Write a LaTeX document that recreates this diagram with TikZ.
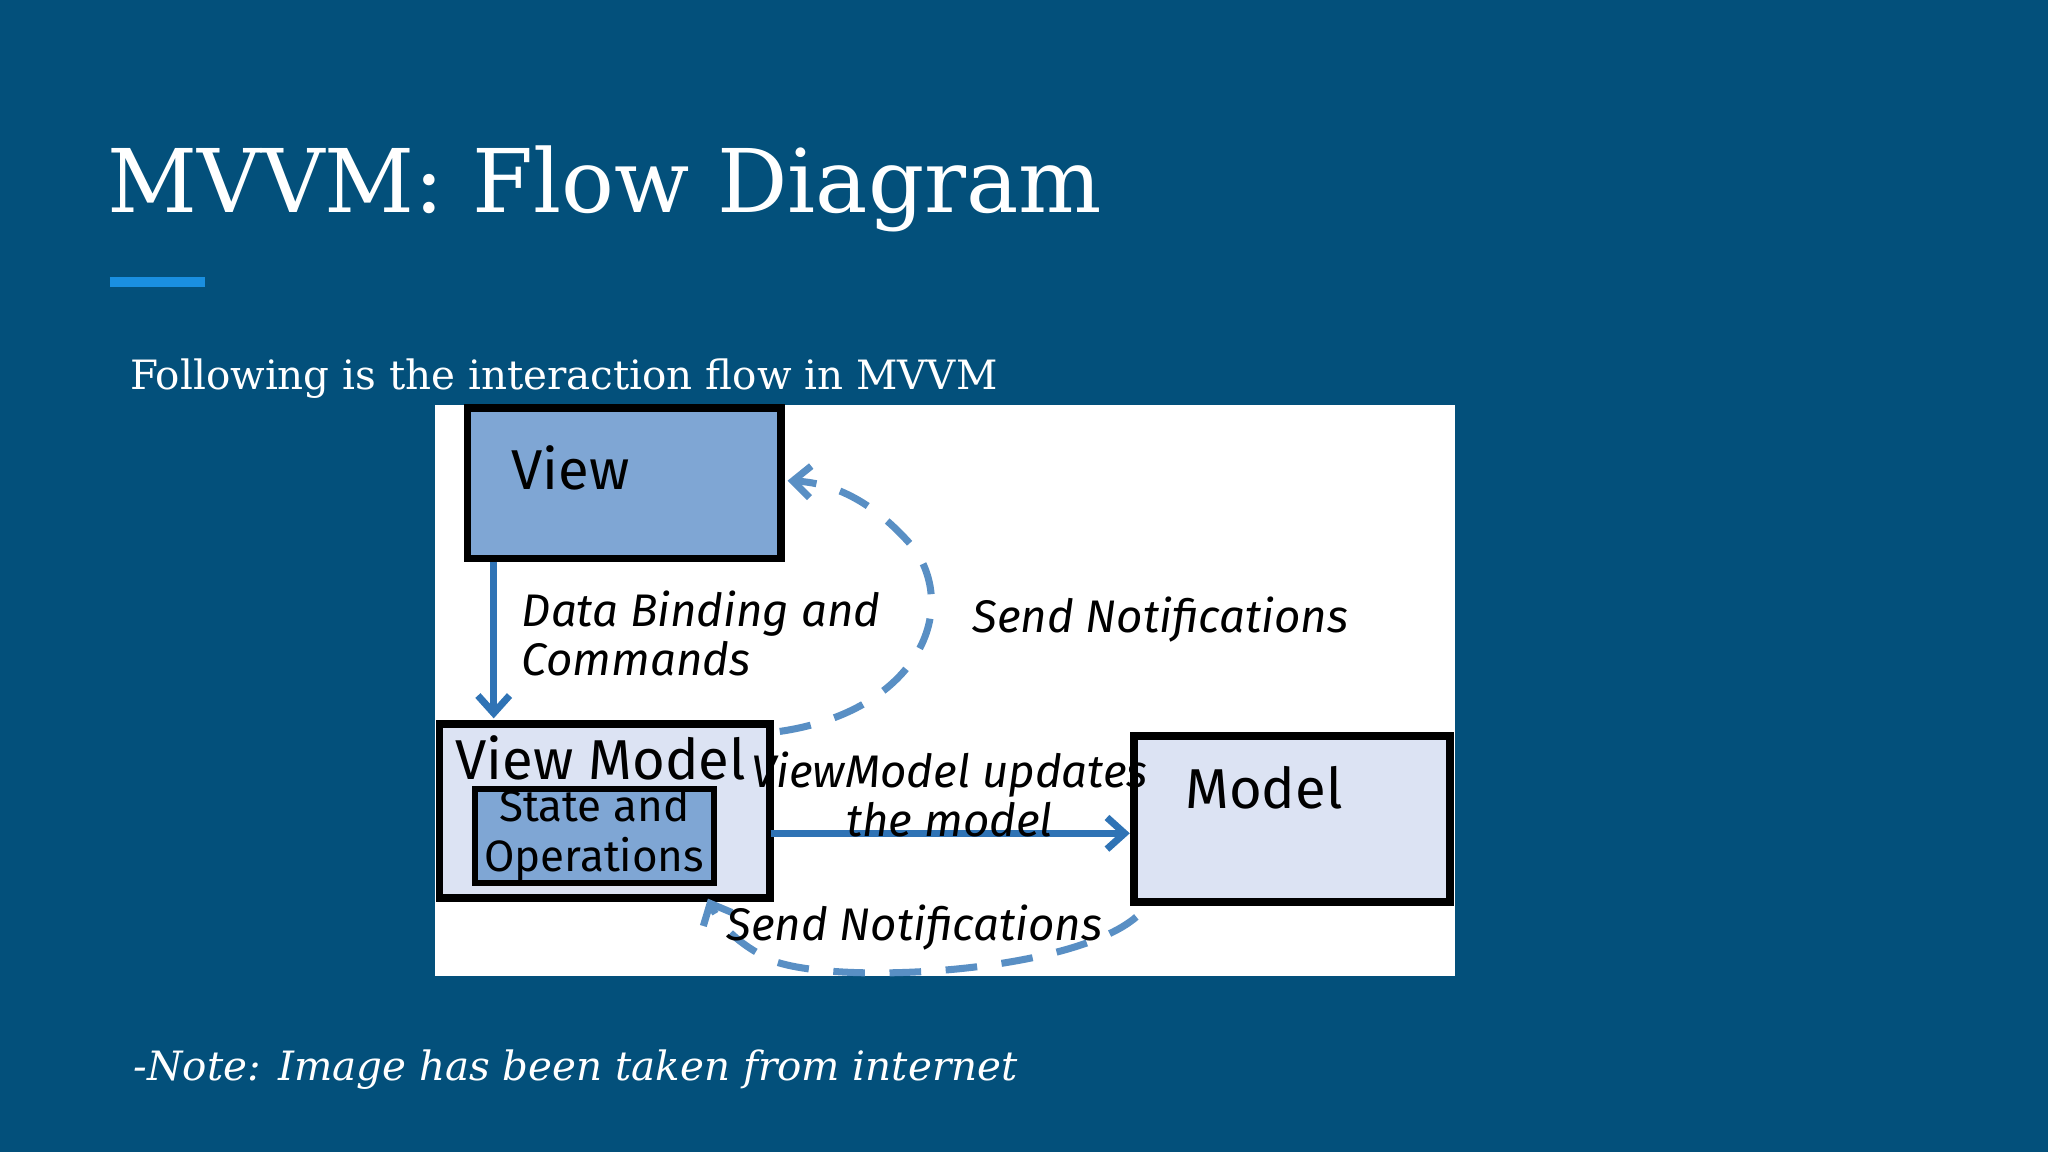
\documentclass[tikz,border=0pt]{standalone}
\usepackage{fontspec}
\setmainfont{DejaVu Serif}
\newfontfamily\hand{Fira Sans}
\usetikzlibrary{arrows.meta}
\definecolor{bg}{HTML}{03507B}
\definecolor{accent}{HTML}{1A8FE0}
\definecolor{dark}{HTML}{7FA6D4}
\definecolor{light}{HTML}{DCE3F3}
\definecolor{arr}{HTML}{2F73B5}
\begin{document}
\begin{tikzpicture}[x=0.013061cm,y=-0.013061cm,
  box/.style={draw=black,line width=2.2pt,inner sep=0pt},
  lbl/.style={font=\hand\itshape\fontsize{13}{14}\selectfont,text=black,align=center},
  flow/.style={draw=arr,line width=2pt,-{Straight Barb[length=5pt,width=9pt]}},
  notif/.style={draw=arr!80,line width=2pt,dash pattern=on 9pt off 7pt,-{Straight Barb[length=5pt,width=9pt]}}]
\fill[bg] (0,0) rectangle (1568,882);
\useasboundingbox (0,0) rectangle (1568,882);
\node[anchor=base west,text=white,font=\fontsize{25}{28}\selectfont,inner sep=0] (title) at (82,163) {MVVM: Flow Diagram};
\draw[accent,line width=3pt] (84,216) -- (157,216);
\node[anchor=base west,text=white,font=\fontsize{11.5}{13}\selectfont,inner sep=0] (sub) at (99,298) {Following is the interaction flow in MVVM};
\fill[white] (333,310) rectangle (1114,747);
\node[box,fill=dark,minimum width=240*0.013061cm,minimum height=115*0.013061cm] (view) at (478,370) {};
\node[lbl,anchor=west,font=\hand\fontsize{16}{18}\selectfont] (viewt) at (382,358) {View};
\node[box,fill=light,minimum width=253*0.013061cm,minimum height=133*0.013061cm] (vm) at (463,621) {};
\node[lbl,font=\hand\fontsize{16}{18}\selectfont] (vmt) at (460,580) {View Model};
\node[box,fill=dark,line width=1.8pt,minimum width=183*0.013061cm,minimum height=72*0.013061cm] (state) at (455,640) {};
\node[lbl,font=\hand\fontsize{12.5}{14}\selectfont,align=center] (statet) at (455,639) {State and\\Operations};
\node[box,fill=light,minimum width=242*0.013061cm,minimum height=127*0.013061cm] (model) at (989,627) {};
\node[lbl,anchor=west,font=\hand\fontsize{16}{18}\selectfont] (modelt) at (898,603) {Model};
\draw[flow] (378,430) -- (378,550);
\node[lbl,align=left,anchor=west] (db) at (390,485) {Data Binding and\\Commands};
\draw[flow] (590,638) -- (865,638);
\node[lbl] (vmu) at (727,608) {ViewModel updates\\the model};
\draw[notif] (597,560) .. controls (700,545) and (735,470) .. (700,420) .. controls (670,385) and (640,370) .. (603,368);
\node[lbl,anchor=west] (sn1) at (735,474) {Send Notifications};
\draw[notif] (870,702) .. controls (820,745) and (640,755) .. (590,735) .. controls (560,720) and (550,705) .. (542,688);
\node[lbl] (sn2) at (700,710) {Send Notifications};
\node[anchor=base west,text=white,font=\itshape\fontsize{11.5}{13}\selectfont,inner sep=0] (note) at (102,827) {-Note: Image has been taken from internet};
\end{tikzpicture}
\end{document}
